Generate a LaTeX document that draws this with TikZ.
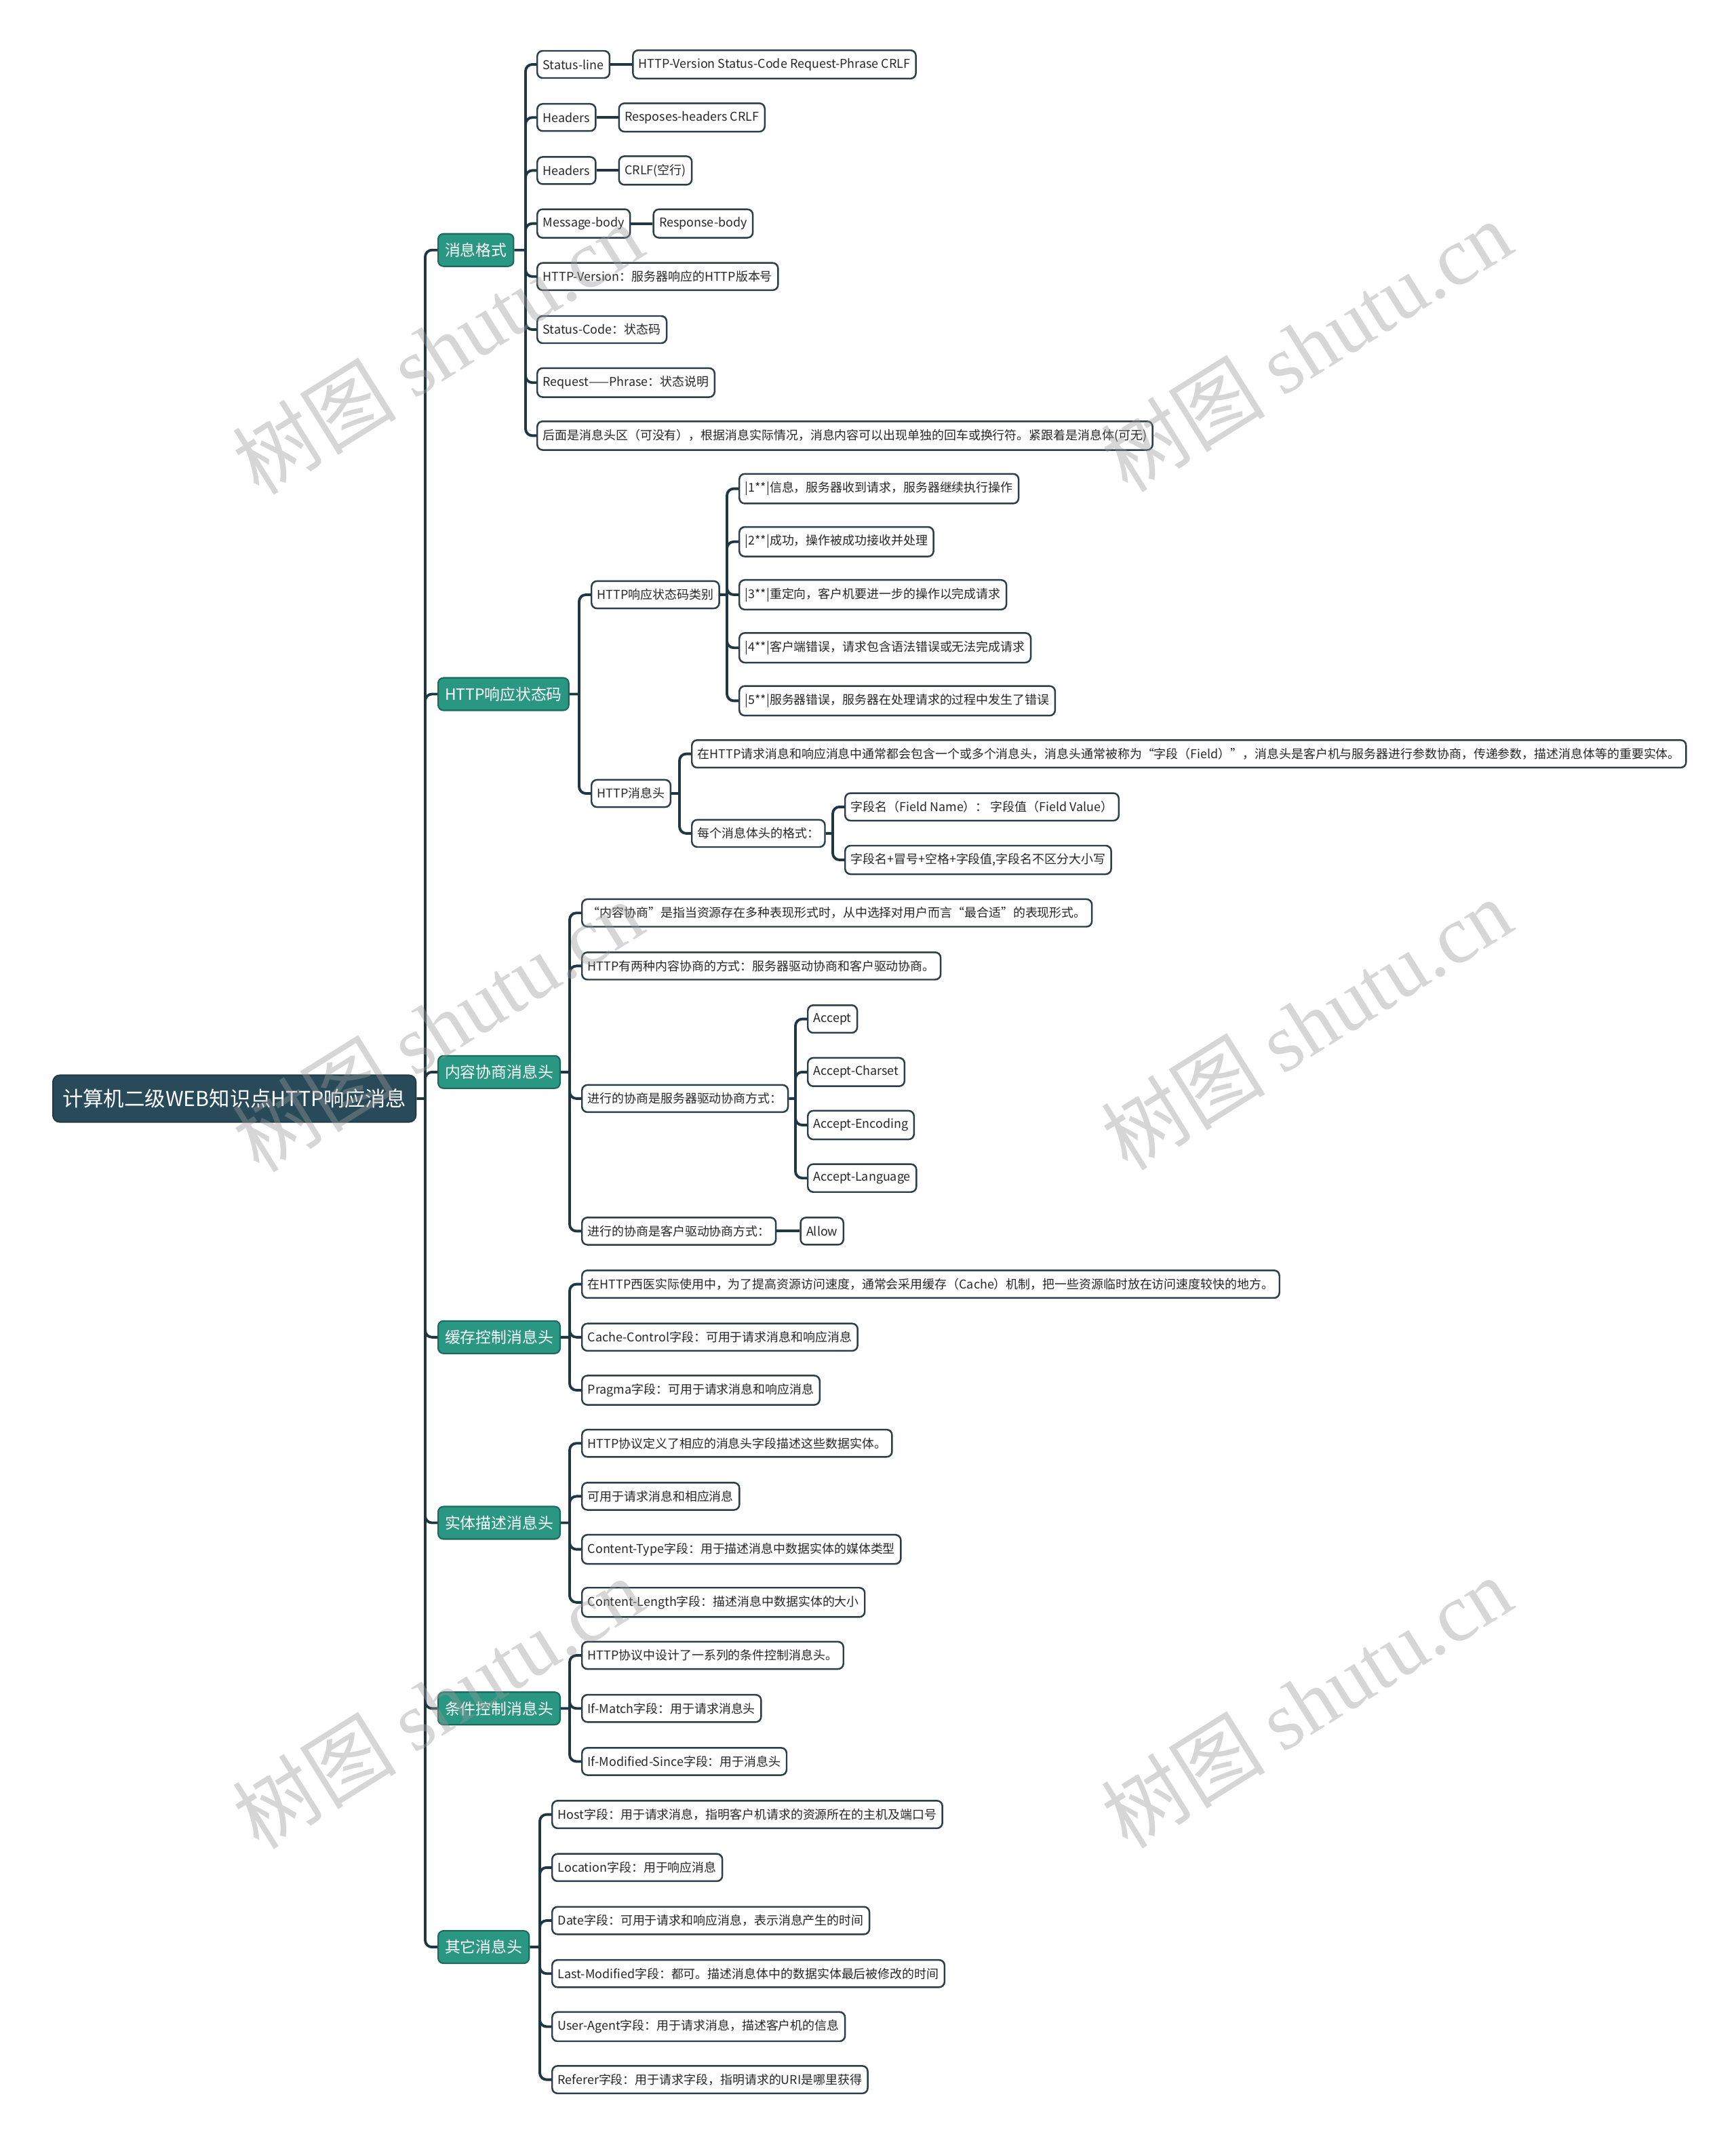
\documentclass[tikz,border=0pt]{standalone}
\usepackage{fontspec}
\setmainfont{Noto Sans CJK SC}
\newfontfamily\wmfont{Liberation Serif}
\usepackage{xcolor}
\usetikzlibrary{calc,positioning}

\definecolor{rootfill}{HTML}{294B59}
\definecolor{topicfill}{HTML}{2A9783}
\definecolor{linkcol}{HTML}{1F3742}
\definecolor{leafline}{HTML}{2B3F48}

\tikzset{
  rootbox/.style={draw=rootfill!80!black, fill=rootfill, text=white, rounded corners=0.1cm,
    font=\fontsize{8.65}{10}\selectfont, inner xsep=0.14cm, minimum height=0.69cm, line width=0.6pt},
  topicbox/.style={draw=topicfill!70!black, fill=topicfill, text=white, rounded corners=0.08cm,
    font=\fontsize{6.5}{8}\selectfont, inner xsep=0.1cm, minimum height=0.48cm, line width=0.6pt},
  leafbox/.style={draw=leafline, fill=white, text=black!85, rounded corners=0.08cm,
    font=\fontsize{5.1}{6}\selectfont, inner xsep=0.085cm, minimum height=0.40cm, line width=0.7pt},
  branch/.style={draw=linkcol, line width=1.1pt, rounded corners=0.1cm},
  wmark/.style={text=black!40, text opacity=0.4, rotate=32, font=\fontsize{34.5}{40}\selectfont}
}

\begin{document}
\begin{tikzpicture}

\useasboundingbox (0,0) rectangle (25.6,-31.63);
\fill[white] (0,0) rectangle (25.6,-31.63);

% Root
\node[rootbox, anchor=west] (root) at (0.77,-16.20) {计算机二级WEB知识点HTTP响应消息};

% Main topics
\node[topicbox, anchor=west] (fmt) at (6.45,-3.687) {消息格式};
\node[topicbox, anchor=west] (code) at (6.45,-10.235) {HTTP响应状态码};
\node[topicbox, anchor=west] (nego) at (6.45,-15.808) {内容协商消息头};
\node[topicbox, anchor=west] (cache) at (6.45,-19.718) {缓存控制消息头};
\node[topicbox, anchor=west] (ent) at (6.45,-22.455) {实体描述消息头};
\node[topicbox, anchor=west] (cond) at (6.45,-25.192) {条件控制消息头};
\node[topicbox, anchor=west] (other) at (6.45,-28.711) {其它消息头};

% Message format
\node[leafbox, anchor=west] (fmt1) at (7.91,-0.95) {Status-line};
\node[leafbox, right=0.32cm of fmt1] (fmt1a) {HTTP-Version Status-Code Request-Phrase CRLF};
\node[leafbox, anchor=west] (fmt2) at (7.91,-1.732) {Headers};
\node[leafbox, right=0.32cm of fmt2] (fmt2a) {Resposes-headers CRLF};
\node[leafbox, anchor=west] (fmt3) at (7.91,-2.514) {Headers};
\node[leafbox, right=0.32cm of fmt3] (fmt3a) {CRLF(空行)};
\node[leafbox, anchor=west] (fmt4) at (7.91,-3.296) {Message-body};
\node[leafbox, right=0.32cm of fmt4] (fmt4a) {Response-body};
\node[leafbox, anchor=west] (fmt5) at (7.91,-4.078) {HTTP-Version：服务器响应的HTTP版本号};
\node[leafbox, anchor=west] (fmt6) at (7.91,-4.86) {Status-Code：状态码};
\node[leafbox, anchor=west] (fmt7) at (7.91,-5.642) {Request——Phrase：状态说明};
\node[leafbox, anchor=west] (fmt8) at (7.91,-6.424) {后面是消息头区（可没有），根据消息实际情况，消息内容可以出现单独的回车或换行符。紧跟着是消息体(可无)};

% Status codes
\node[leafbox, anchor=west] (code1) at (8.71,-8.77) {HTTP响应状态码类别};
\node[leafbox, anchor=west] (code11) at (10.89,-7.206) {|1**|信息，服务器收到请求，服务器继续执行操作};
\node[leafbox, anchor=west] (code12) at (10.89,-7.988) {|2**|成功，操作被成功接收并处理};
\node[leafbox, anchor=west] (code13) at (10.89,-8.77) {|3**|重定向，客户机要进一步的操作以完成请求};
\node[leafbox, anchor=west] (code14) at (10.89,-9.552) {|4**|客户端错误，请求包含语法错误或无法完成请求};
\node[leafbox, anchor=west] (code15) at (10.89,-10.334) {|5**|服务器错误，服务器在处理请求的过程中发生了错误};
\node[leafbox, anchor=west] (code2) at (8.71,-11.70) {HTTP消息头};
\node[leafbox, anchor=west] (code21) at (10.19,-11.116) {在HTTP请求消息和响应消息中通常都会包含一个或多个消息头，消息头通常被称为“字段（Field）”，消息头是客户机与服务器进行参数协商，传递参数，描述消息体等的重要实体。};
\node[leafbox, anchor=west] (code22) at (10.19,-12.289) {每个消息体头的格式：};
\node[leafbox, anchor=west] (code221) at (12.45,-11.898) {字段名（Field Name）： 字段值（Field Value）};
\node[leafbox, anchor=west] (code222) at (12.45,-12.68) {字段名+冒号+空格+字段值,字段名不区分大小写};

% Content negotiation
\node[leafbox, anchor=west] (nego1) at (8.57,-13.462) {“内容协商”是指当资源存在多种表现形式时，从中选择对用户而言“最合适”的表现形式。};
\node[leafbox, anchor=west] (nego2) at (8.57,-14.244) {HTTP有两种内容协商的方式：服务器驱动协商和客户驱动协商。};
\node[leafbox, anchor=west] (nego3) at (8.57,-16.199) {进行的协商是服务器驱动协商方式：};
\node[leafbox, anchor=west] (nego31) at (11.90,-15.026) {Accept};
\node[leafbox, anchor=west] (nego32) at (11.90,-15.808) {Accept-Charset};
\node[leafbox, anchor=west] (nego33) at (11.90,-16.59) {Accept-Encoding};
\node[leafbox, anchor=west] (nego34) at (11.90,-17.372) {Accept-Language};
\node[leafbox, anchor=west] (nego4) at (8.57,-18.154) {进行的协商是客户驱动协商方式：};
\node[leafbox, right=0.34cm of nego4] (nego4a) {Allow};

% Cache control
\node[leafbox, anchor=west] (cache1) at (8.57,-18.936) {在HTTP西医实际使用中，为了提高资源访问速度，通常会采用缓存（Cache）机制，把一些资源临时放在访问速度较快的地方。};
\node[leafbox, anchor=west] (cache2) at (8.57,-19.718) {Cache-Control字段：可用于请求消息和响应消息};
\node[leafbox, anchor=west] (cache3) at (8.57,-20.5) {Pragma字段：可用于请求消息和响应消息};

% Entity
\node[leafbox, anchor=west] (ent1) at (8.57,-21.282) {HTTP协议定义了相应的消息头字段描述这些数据实体。};
\node[leafbox, anchor=west] (ent2) at (8.57,-22.064) {可用于请求消息和相应消息};
\node[leafbox, anchor=west] (ent3) at (8.57,-22.846) {Content-Type字段：用于描述消息中数据实体的媒体类型};
\node[leafbox, anchor=west] (ent4) at (8.57,-23.628) {Content-Length字段：描述消息中数据实体的大小};

% Conditional
\node[leafbox, anchor=west] (cond1) at (8.57,-24.41) {HTTP协议中设计了一系列的条件控制消息头。};
\node[leafbox, anchor=west] (cond2) at (8.57,-25.192) {If-Match字段：用于请求消息头};
\node[leafbox, anchor=west] (cond3) at (8.57,-25.974) {If-Modified-Since字段：用于消息头};

% Other headers
\node[leafbox, anchor=west] (other1) at (8.13,-26.756) {Host字段：用于请求消息，指明客户机请求的资源所在的主机及端口号};
\node[leafbox, anchor=west] (other2) at (8.13,-27.538) {Location字段：用于响应消息};
\node[leafbox, anchor=west] (other3) at (8.13,-28.32) {Date字段：可用于请求和响应消息，表示消息产生的时间};
\node[leafbox, anchor=west] (other4) at (8.13,-29.102) {Last-Modified字段：都可。描述消息体中的数据实体最后被修改的时间};
\node[leafbox, anchor=west] (other5) at (8.13,-29.884) {User-Agent字段：用于请求消息，描述客户机的信息};
\node[leafbox, anchor=west] (other6) at (8.13,-30.666) {Referer字段：用于请求字段，指明请求的URI是哪里获得};

% Fork points
\coordinate (rootT) at (6.27,-16.20);
\coordinate (fmtT) at (7.75,-3.687);
\coordinate (codeT) at (8.54,-10.235);
\coordinate (code1T) at (10.72,-8.77);
\coordinate (code2T) at (10.02,-11.70);
\coordinate (code22T) at (12.28,-12.289);
\coordinate (negoT) at (8.40,-15.808);
\coordinate (nego3T) at (11.73,-16.199);
\coordinate (cacheT) at (8.40,-19.718);
\coordinate (entT) at (8.40,-22.455);
\coordinate (condT) at (8.40,-25.192);
\coordinate (otherT) at (7.96,-28.711);

% Connectors
\draw[branch] (root.east) -- (rootT)
  (rootT) |- (fmt.west) (rootT) |- (code.west) (rootT) |- (nego.west) (rootT) |- (cache.west)
  (rootT) |- (ent.west) (rootT) |- (cond.west) (rootT) |- (other.west);
\draw[branch] (fmt.east) -- (fmtT)
  (fmtT) |- (fmt1.west) (fmtT) |- (fmt2.west) (fmtT) |- (fmt3.west) (fmtT) |- (fmt4.west)
  (fmtT) |- (fmt5.west) (fmtT) |- (fmt6.west) (fmtT) |- (fmt7.west) (fmtT) |- (fmt8.west);
\draw[branch] (fmt1.east) -- (fmt1a.west) (fmt2.east) -- (fmt2a.west)
  (fmt3.east) -- (fmt3a.west) (fmt4.east) -- (fmt4a.west);
\draw[branch] (code.east) -- (codeT) (codeT) |- (code1.west) (codeT) |- (code2.west);
\draw[branch] (code1.east) -- (code1T)
  (code1T) |- (code11.west) (code1T) |- (code12.west) (code1T) |- (code13.west)
  (code1T) |- (code14.west) (code1T) |- (code15.west);
\draw[branch] (code2.east) -- (code2T) (code2T) |- (code21.west) (code2T) |- (code22.west);
\draw[branch] (code22.east) -- (code22T) (code22T) |- (code221.west) (code22T) |- (code222.west);
\draw[branch] (nego.east) -- (negoT)
  (negoT) |- (nego1.west) (negoT) |- (nego2.west) (negoT) |- (nego3.west) (negoT) |- (nego4.west);
\draw[branch] (nego3.east) -- (nego3T)
  (nego3T) |- (nego31.west) (nego3T) |- (nego32.west) (nego3T) |- (nego33.west) (nego3T) |- (nego34.west);
\draw[branch] (nego4.east) -- (nego4a.west);
\draw[branch] (cache.east) -- (cacheT)
  (cacheT) |- (cache1.west) (cacheT) |- (cache2.west) (cacheT) |- (cache3.west);
\draw[branch] (ent.east) -- (entT)
  (entT) |- (ent1.west) (entT) |- (ent2.west) (entT) |- (ent3.west) (entT) |- (ent4.west);
\draw[branch] (cond.east) -- (condT)
  (condT) |- (cond1.west) (condT) |- (cond2.west) (condT) |- (cond3.west);
\draw[branch] (other.east) -- (otherT)
  (otherT) |- (other1.west) (otherT) |- (other2.west) (otherT) |- (other3.west)
  (otherT) |- (other4.west) (otherT) |- (other5.west) (otherT) |- (other6.west);

% Watermarks
\node[wmark] (wm1) at (6.45,-5.14) {树图 {\wmfont shutu.cn}};
\node[wmark] (wm2) at (19.26,-5.10) {树图 {\wmfont shutu.cn}};
\node[wmark] (wm3) at (6.45,-15.13) {树图 {\wmfont shutu.cn}};
\node[wmark] (wm4) at (19.26,-15.10) {树图 {\wmfont shutu.cn}};
\node[wmark] (wm5) at (6.45,-25.11) {树图 {\wmfont shutu.cn}};
\node[wmark] (wm6) at (19.26,-25.10) {树图 {\wmfont shutu.cn}};

\end{tikzpicture}
\end{document}
